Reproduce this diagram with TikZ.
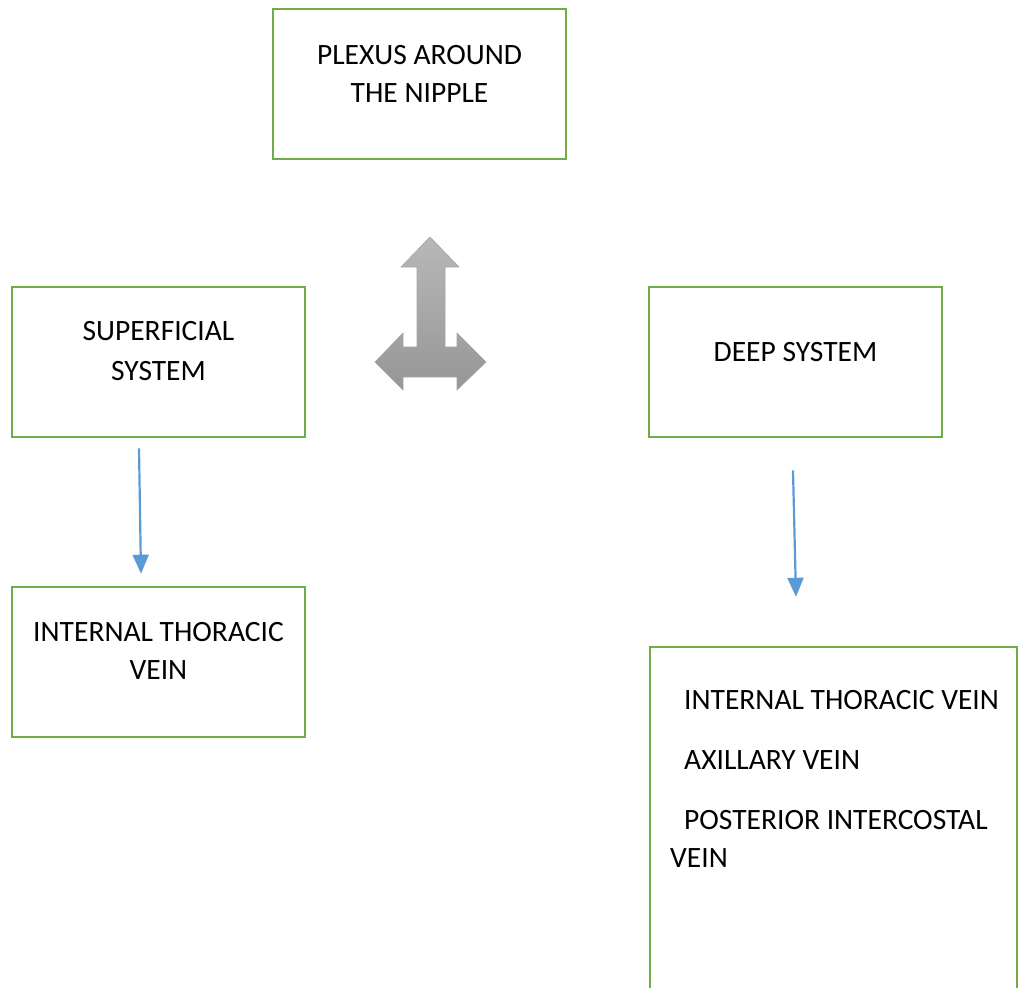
\documentclass[tikz,border=0pt]{standalone}
\usepackage{fontspec}
\setmainfont{Carlito}
\usetikzlibrary{arrows.meta}
\definecolor{boxgreen}{HTML}{70AD47}
\definecolor{arrowblue}{HTML}{5B9BD5}
\begin{document}
\begin{tikzpicture}[x=1pt,y=-1pt,
  font=\fontsize{29.5}{38}\selectfont,
  box/.style={draw=boxgreen, line width=2.6pt, inner sep=0pt, minimum width=293pt, minimum height=150pt},
  boxline/.style={draw=boxgreen, line width=2.6pt},
  lbl/.style={align=center, inner sep=0pt},
  item/.style={anchor=base west, inner sep=0pt},
  flow/.style={draw=arrowblue, line width=2.2pt, -{Triangle[length=19pt,width=16pt]}}]
\useasboundingbox (0,0) rectangle (1018,988);

% boxes
\node[box] (plexus) at (419.5,84) {};
\node[box] (sup) at (158.5,362) {};
\node[box] (deep) at (795.5,362) {};
\node[box] (itv) at (158.5,662) {};
\node[inner sep=0pt, minimum width=367pt, minimum height=341pt] (tribs) at (833.5,817.5) {};
\draw[boxline] (tribs.south west) |- (tribs.north east) -- (tribs.south east);

% texts
\node[lbl] (plexusT) at (419.5,74) {PLEXUS AROUND\\THE NIPPLE};
\node[lbl] (supT) at (158.5,351) {SUPERFICIAL\\[2pt]SYSTEM};
\node[lbl] (deepT) at (795.5,352) {DEEP SYSTEM};
\node[lbl] (itvT) at (158.5,651) {INTERNAL THORACIC\\VEIN};
\node[item] (t1) at (684,709) {INTERNAL THORACIC VEIN};
\node[item] (t2) at (684,769) {AXILLARY VEIN};
\node[item] (t3) at (684,829) {POSTERIOR INTERCOSTAL};
\node[item] (t4) at (670,867) {VEIN};

% connectors
\draw[flow] ([xshift=-19.5pt,yshift=-10pt]sup.south) -- ([xshift=-17.5pt,yshift=12pt]itv.north);
\draw[flow] ([xshift=-2.5pt,yshift=-32pt]deep.south) -- ([xshift=-37.5pt,yshift=50pt]tribs.north);

% three-way block arrow
\shade[top color={rgb,255:red,184;green,184;blue,184}, bottom color={rgb,255:red,150;green,150;blue,150}, draw={rgb,255:red,165;green,165;blue,165}, line width=0.6pt]
  (430,237) -- (459,267) -- (445,267) -- (445,347) -- (457,347) -- (457,333)
  -- (486,362) -- (457,390) -- (457,377) -- (403,377) -- (403,390) -- (375,362)
  -- (403,333) -- (403,347) -- (417,347) -- (417,267) -- (401,267) -- cycle;
\end{tikzpicture}
\end{document}
